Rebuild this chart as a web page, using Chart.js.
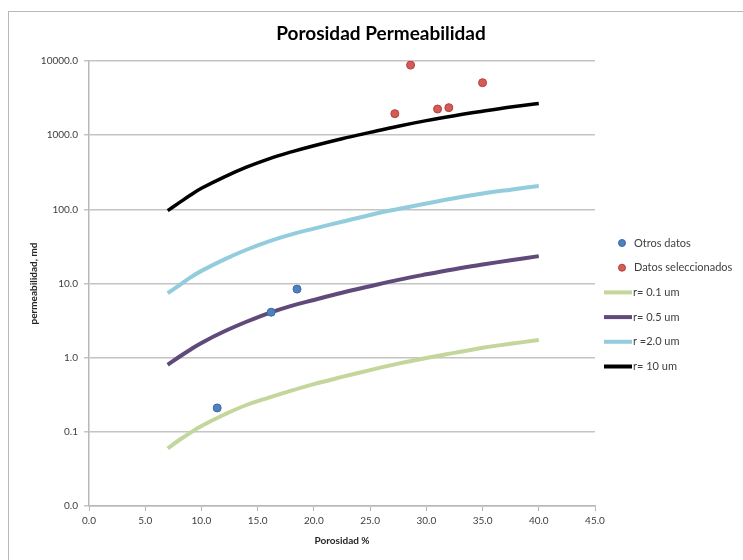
<!DOCTYPE html>
<html>
<head>
<meta charset="utf-8">
<script src="https://cdn.jsdelivr.net/npm/chart.js@4.4.0/dist/chart.umd.min.js"></script>
<style>
  html, body { margin: 0; padding: 0; background: #fff; }
  #wrap { position: relative; width: 743px; height: 560px; overflow: hidden; }
  #marco { position: absolute; left: 8px; top: 11px; width: 800px; height: 600px;
           border-left: 1px solid #b8b8b8; border-top: 1px solid #b8b8b8; }
  canvas { position: absolute; left: 0; top: 0; }
</style>
</head>
<body>
<div id="wrap">
  <div id="marco"></div>
  <canvas id="grafico" width="743" height="560"></canvas>
</div>
<script>
// porosidad (%) de las curvas teoricas
const porosidad = [7, 8, 9, 10, 12, 14, 16, 18, 20, 22.5, 25, 27.5, 30, 32.5, 35, 37.5, 40];
const r01 = [0.060, 0.077, 0.097, 0.12, 0.17, 0.23, 0.29, 0.36, 0.44, 0.55, 0.68, 0.83, 0.99, 1.16, 1.36, 1.54, 1.73];
const r05 = [0.80, 1.02, 1.28, 1.58, 2.25, 3.05, 4.0, 5.0, 6.0, 7.5, 9.2, 11.2, 13.3, 15.6, 18, 20.6, 23.4];
const r2 = [7.4, 9.4, 12.0, 14.8, 21, 28.5, 37, 46, 55, 68, 84, 101, 120, 141, 163, 184, 206];
const r10 = [96, 122, 155, 192, 272, 370, 480, 595, 720, 895, 1090, 1320, 1570, 1830, 2100, 2390, 2680];

// muestras
const otrosX = [11.4, 16.2, 18.5];
const otrosY = [0.21, 4.1, 8.4];
const selX = [27.2, 28.6, 31.0, 32.0, 35.0];
const selY = [1950, 8800, 2250, 2350, 5100];

const yTicks = [0.01, 0.1, 1, 10, 100, 1000, 10000];
const titulo = 'Porosidad Permeabilidad';

const puntos = (xs, ys) => xs.map((x, i) => ({ x: x, y: ys[i] }));
const FUENTE = 'Lato, "Liberation Sans", sans-serif';

const curva = (label, ys, color, ancho) => ({
  label: label,
  data: puntos(porosidad, ys),
  showLine: true,
  borderColor: color,
  backgroundColor: color,
  borderWidth: ancho,
  pointRadius: 0,
  tension: 0.4
});

// titulo y leyenda dibujados a mano, como en Excel
const adornos = {
  id: 'adornos',
  afterDraw(chart) {
    const ctx = chart.ctx;
    ctx.save();
    ctx.fillStyle = '#000';
    ctx.font = 'bold 19px ' + FUENTE;
    ctx.textAlign = 'center';
    ctx.textBaseline = 'middle';
    ctx.fillText(titulo, 381, 34);

    ctx.font = '11px ' + FUENTE;
    ctx.textAlign = 'left';
    chart.data.datasets.forEach((ds, i) => {
      const y = 243 + i * 24.7;
      if (ds.showLine) {
        ctx.strokeStyle = ds.borderColor;
        ctx.lineWidth = 4;
        ctx.beginPath();
        ctx.moveTo(604, y);
        ctx.lineTo(632, y);
        ctx.stroke();
        ctx.fillStyle = '#404040';
        ctx.fillText(ds.label, 633, y);
      } else {
        ctx.fillStyle = ds.backgroundColor;
        ctx.strokeStyle = ds.borderColor;
        ctx.lineWidth = 1;
        ctx.beginPath();
        ctx.arc(622, y, 3.5, 0, Math.PI * 2);
        ctx.fill();
        ctx.stroke();
        ctx.fillStyle = '#404040';
        ctx.fillText(ds.label, 634, y);
      }
    });
    ctx.restore();
  }
};

new Chart(document.getElementById('grafico').getContext('2d'), {
  type: 'scatter',
  data: {
    datasets: [
      { label: 'Otros datos', data: puntos(otrosX, otrosY), pointRadius: 4,
        backgroundColor: '#4f81bd', borderColor: '#3a6aa8', borderWidth: 1 },
      { label: 'Datos seleccionados', data: puntos(selX, selY), pointRadius: 4,
        backgroundColor: '#d65a56', borderColor: '#b3403c', borderWidth: 1 },
      curva('r= 0.1 um', r01, '#c3d69b', 4),
      curva('r= 0.5 um', r05, '#604a7b', 4),
      curva('r =2.0 um', r2, '#93cddd', 4),
      curva('r= 10 um', r10, '#000000', 3.5)
    ]
  },
  options: {
    responsive: false,
    animation: false,
    devicePixelRatio: 1,
    layout: { padding: { left: 0, right: 148, top: 61, bottom: 0 } },
    plugins: {
      legend: { display: false },
      tooltip: { enabled: false },
      title: { display: false }
    },
    scales: {
      x: {
        type: 'linear',
        min: 0,
        max: 45,
        afterFit: s => { s.height = 54; },
        ticks: {
          stepSize: 5,
          color: '#404040',
          font: { family: FUENTE, size: 10 },
          padding: 4,
          maxRotation: 0,
          callback: v => Number(v).toFixed(1)
        },
        grid: { drawOnChartArea: false, drawTicks: true, tickLength: 5, color: '#b8b8b8' },
        border: { color: '#b8b8b8', width: 1.5 },
        title: {
          display: true,
          text: 'Porosidad %',
          color: '#262626',
          font: { family: FUENTE, size: 10, weight: 'bold' },
          padding: { top: 2, bottom: 13 }
        }
      },
      y: {
        type: 'logarithmic',
        min: 0.01,
        max: 10000,
        afterFit: s => { s.width = 89; },
        afterBuildTicks: s => { s.ticks = yTicks.map(v => ({ value: v })); },
        ticks: {
          color: '#404040',
          font: { family: FUENTE, size: 10 },
          padding: 6,
          callback: v => Number(v).toFixed(1)
        },
        grid: { color: '#c4c4c4', lineWidth: 1.5, tickLength: 5 },
        border: { color: '#b8b8b8', width: 1.5 },
        title: {
          display: true,
          text: 'permeabilidad, md',
          color: '#262626',
          font: { family: FUENTE, size: 10, weight: 'bold' },
          padding: { top: 28, bottom: 0 }
        }
      }
    }
  },
  plugins: [adornos]
});
</script>
</body>
</html>
